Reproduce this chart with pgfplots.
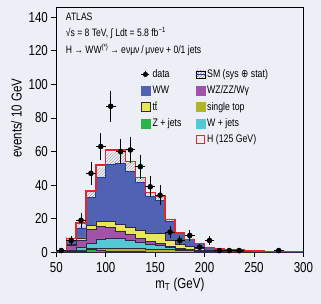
\documentclass[border=0pt]{standalone}
\usepackage{fontspec}
\setmainfont{Liberation Sans}[FakeStretch=0.8]
\newfontfamily\tickfont{Liberation Sans}[FakeStretch=0.8]
\newfontfamily\dejavu{DejaVu Sans}[FakeStretch=0.8]
\usepackage{pgfplots}
\pgfplotsset{compat=1.18}
\usepackage{pgfplotstable}
\usepgfplotslibrary{fillbetween}
\usetikzlibrary{patterns}

\definecolor{bgcol}{RGB}{237,239,247}
\definecolor{wwcol}{RGB}{82,98,178}
\definecolor{wwline}{RGB}{30,60,160}
\definecolor{vvcol}{RGB}{162,82,170}
\definecolor{ttcol}{RGB}{232,232,82}
\definecolor{stcol}{RGB}{180,180,40}
\definecolor{zcol}{RGB}{40,180,70}
\definecolor{wjcol}{RGB}{84,200,212}
\definecolor{hcol}{RGB}{232,36,40}
\definecolor{edge}{RGB}{50,40,60}

\pgfplotstableread{
x   Z   st  Wj  VV  tt  WW   H   unc
50  0   0   0.2 0.4 0   0.4  0   0.3
60  0.4 0.2 0.8 2.6 0.6 2.4  1.0 2.0
70  0.8 0.4 1.5 4.6 1.2 6.0  3.0 2.5
80  1.5 0.8 3.0 8.5 2.0 16.7 4.0 3.5
90  1.2 1.2 5.5 7.5 3.0 26.1 7.5 6.0
100 0.8 1.5 6.0 6.5 3.5 34.2 8.5 7.0
110 0.6 1.6 6.0 4.5 4.0 36.3 8.0 7.0
120 0.4 1.8 4.8 3.5 4.5 33.0 6.0 5.5
130 0.3 1.8 3.8 2.5 4.6 28.5 3.0 3.0
140 0.2 1.8 2.8 1.7 5.0 22.0 2.0 2.0
150 0.2 1.8 2.0 1.2 6.0 19.8 2.5 2.0
160 0.1 1.5 1.2 0.8 3.5 11.4 1.0 1.5
170 0.1 1.2 0.6 0.5 2.3 6.3  0.5 1.0
180 0   1.0 0.4 0.3 1.8 4.0  0.3 0.8
190 0   0.7 0.2 0.2 1.0 2.9  0.2 0.6
200 0   0.4 0.1 0.1 0.6 1.6  0.1 0.4
210 0   0.3 0.1 0.1 0.4 1.1  0.1 0.3
220 0   0.2 0   0.1 0.3 0.9  0.1 0.3
230 0   0.1 0   0.1 0.2 0.8  0.1 0.2
240 0   0.1 0   0   0.1 0.6  0.1 0.2
250 0   0   0   0   0.1 0.5  0.1 0.2
260 0   0   0   0   0   0.2  0.1 0.1
270 0   0   0   0   0   0.1  0.2 0.1
280 0   0   0   0   0   0.1  0.2 0.1
290 0   0   0   0   0   0.1  0.2 0.1
300 0   0   0   0   0   0.1  0.2 0.1
}\bkg

\pgfplotstableread{
x   y  e
55  1  1
65  7  2.6
75  19 4.4
85  47 6.9
95  63 7.9
105 87 9.3
115 60 7.7
125 61 7.8
135 51 7.1
145 39 6.2
155 34 5.8
165 12 3.5
175 7  2.6
185 10 3.2
195 3  1.7
205 7  2.6
215 1  1
225 1  1
235 1  1
275 1  1
}\data

\begin{document}
\pagecolor{bgcol}
\begin{tikzpicture}
\path (-54.5pt,-52pt) rectangle (266.5pt,254pt);
\begin{axis}[
  at={(0,0)}, anchor=south west, scale only axis,
  width=248.8pt, height=246.7pt,
  xmin=50, xmax=300, ymin=0, ymax=146,
  xtick={50,100,...,300}, ytick={0,20,...,140},
  tick pos=left, tick align=outside, major tick length=5pt,
  minor tick num=0,
  /pgf/number format/assume math mode=true,
  tick label style={font=\tickfont\fontsize{14.5}{17}\selectfont},
  xticklabel style={yshift=-2pt},
  tick style={line width=0.8pt, black},
  axis line style={line width=0.9pt, black},
  xlabel={m\textsubscript{T} (GeV)},
  ylabel={events/ 10 GeV},
  label style={font=\tickfont\fontsize{14.5}{17}\selectfont},
  xlabel style={at={(axis description cs:0.5,-0.134)}, anchor=center},
  ylabel style={at={(axis description cs:-0.161,0.547)}, anchor=center},
  legend columns=2,
  legend cell align=left,
  legend style={at={(axis description cs:0.33,0.762)}, anchor=north west,
    draw=none, fill=none, font=\fontsize{11}{13}\selectfont,
    row sep=2.7pt,
    /tikz/every even column/.append style={column sep=12pt}},
]
% legend entries
\addlegendimage{legend image code/.code={
  \draw[black, line width=0.8pt] (0pt,0pt) -- (8pt,0pt);
  \draw[black, line width=0.8pt] (4pt,-3pt) -- (4pt,3pt);
  \fill[black] (4pt,0pt) circle (2.3pt);}}
\addlegendentry{data}
\addlegendimage{legend image code/.code={
  \fill[pattern=north east lines, pattern color=gray] (0pt,-3.5pt) rectangle (9pt,3.5pt);
  \draw[wwline, line width=0.9pt] (0pt,0pt) -- (9pt,0pt);}}
\addlegendentry{SM (sys {\dejavu ⊕} stat)}
\addlegendimage{legend image code/.code={
  \fill[wwcol] (0pt,-4.5pt) rectangle (9pt,4.5pt);}}
\addlegendentry{WW}
\addlegendimage{legend image code/.code={
  \fill[vvcol] (0pt,-4.5pt) rectangle (9pt,4.5pt);}}
\addlegendentry{WZ/ZZ/Wγ}
\addlegendimage{legend image code/.code={
  \filldraw[fill=ttcol, draw=edge, line width=0.4pt] (0pt,-4.5pt) rectangle (9pt,4.5pt);}}
\addlegendentry{t\={t}}
\addlegendimage{legend image code/.code={
  \fill[stcol] (0pt,-4.5pt) rectangle (9pt,4.5pt);}}
\addlegendentry{single top}
\addlegendimage{legend image code/.code={
  \fill[zcol] (0pt,-4.5pt) rectangle (9pt,4.5pt);}}
\addlegendentry{Z + jets}
\addlegendimage{legend image code/.code={
  \fill[wjcol] (0pt,-4.5pt) rectangle (9pt,4.5pt);}}
\addlegendentry{W + jets}
\addlegendimage{empty legend}
\addlegendentry{}
\addlegendimage{legend image code/.code={
  \draw[hcol, line width=1pt] (0.5pt,-4pt) rectangle (8.5pt,4pt);}}
\addlegendentry{H (125 GeV)}

% stacked backgrounds (painted from total downward)
\addplot[const plot, fill=wwcol, draw=wwline, line width=0.8pt, forget plot]
  table[x=x, y expr=\thisrow{Z}+\thisrow{st}+\thisrow{Wj}+\thisrow{VV}+\thisrow{tt}+\thisrow{WW}] {\bkg} \closedcycle;
\addplot[const plot, fill=ttcol, draw=edge, line width=0.6pt, forget plot]
  table[x=x, y expr=\thisrow{Z}+\thisrow{st}+\thisrow{Wj}+\thisrow{VV}+\thisrow{tt}] {\bkg} \closedcycle;
\addplot[const plot, fill=vvcol, draw=edge, line width=0.6pt, forget plot]
  table[x=x, y expr=\thisrow{Z}+\thisrow{st}+\thisrow{Wj}+\thisrow{VV}] {\bkg} \closedcycle;
\addplot[const plot, fill=wjcol, draw=edge, line width=0.6pt, forget plot]
  table[x=x, y expr=\thisrow{Z}+\thisrow{st}+\thisrow{Wj}] {\bkg} \closedcycle;
\addplot[const plot, fill=stcol, draw=edge, line width=0.6pt, forget plot]
  table[x=x, y expr=\thisrow{Z}+\thisrow{st}] {\bkg} \closedcycle;
\addplot[const plot, fill=zcol, draw=edge, line width=0.6pt, forget plot]
  table[x=x, y expr=\thisrow{Z}] {\bkg} \closedcycle;

% uncertainty band
\addplot[const plot, draw=none, name path=up, forget plot]
  table[x=x, y expr=\thisrow{Z}+\thisrow{st}+\thisrow{Wj}+\thisrow{VV}+\thisrow{tt}+\thisrow{WW}+\thisrow{unc}] {\bkg};
\addplot[const plot, draw=none, name path=lo, forget plot]
  table[x=x, y expr=\thisrow{Z}+\thisrow{st}+\thisrow{Wj}+\thisrow{VV}+\thisrow{tt}+\thisrow{WW}-\thisrow{unc}] {\bkg};
\addplot[pattern=north east lines, pattern color=gray!80, forget plot] fill between[of=up and lo];

% Higgs on top
\addplot[const plot, draw=hcol, line width=1.3pt, forget plot]
  table[x=x, y expr=\thisrow{Z}+\thisrow{st}+\thisrow{Wj}+\thisrow{VV}+\thisrow{tt}+\thisrow{WW}+\thisrow{H}] {\bkg};

% data
\addplot[only marks, mark=*, mark size=2.4pt, black, line width=0.8pt, forget plot,
  error bars/.cd, x dir=both, x fixed=5, y dir=both, y explicit,
  error mark=none, error bar style={line width=0.8pt, black}]
  table[x=x, y=y, y error=e] {\data};

\node[anchor=west, inner sep=0pt, font=\fontsize{10.8}{12}\selectfont] at (axis description cs:0.038,0.961) {ATLAS};
\node[anchor=west, inner sep=0pt, font=\fontsize{10.8}{12}\selectfont] at (axis description cs:0.038,0.895) {√s = 8 TeV, ∫ Ldt = 5.8 fb\textsuperscript{−1}};
\node[anchor=west, inner sep=0pt, font=\fontsize{10.8}{12}\selectfont] at (axis description cs:0.038,0.826) {H → WW\textsuperscript{(*)}\,→ eνμν\,/\,μνeν + 0/1 jets};
\end{axis}
\end{tikzpicture}
\end{document}
